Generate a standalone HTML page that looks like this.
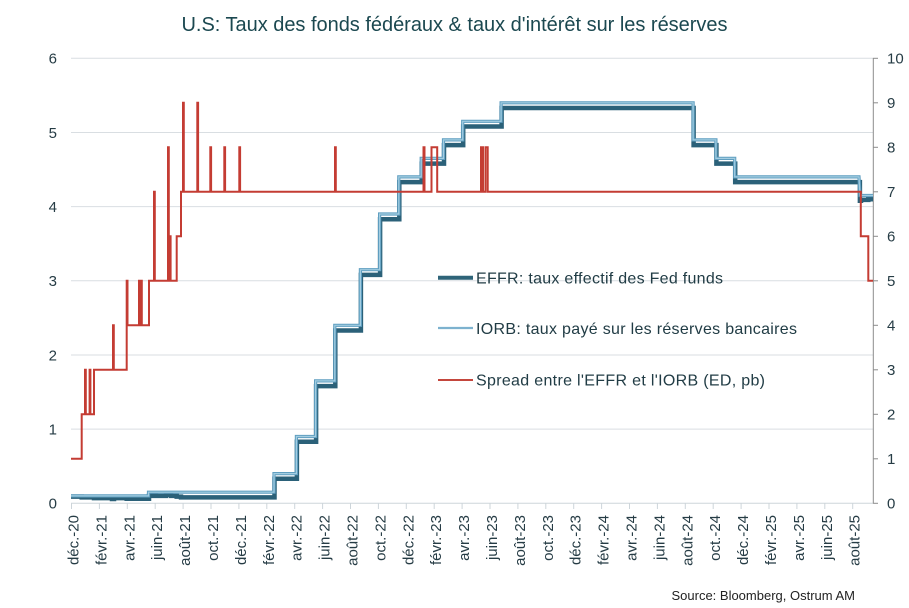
<!DOCTYPE html>
<html>
<head>
<meta charset="utf-8">
<style>
  html, body { margin:0; padding:0; background:#ffffff; }
  svg { display:block; }
  text { font-family: "Liberation Sans", Arial, sans-serif; }
</style>
</head>
<body>
<svg width="909" height="608" viewBox="0 0 909 608" xmlns="http://www.w3.org/2000/svg">
  <rect x="0" y="0" width="909" height="608" fill="#ffffff"/>

  <!-- Title -->
  <text x="181.5" y="31" font-size="20" fill="#1b4850" textLength="546" lengthAdjust="spacing">U.S: Taux des fonds fédéraux &amp; taux d'intérêt sur les réserves</text>

  <!-- Gridlines -->
  <g stroke="#d9dee2" stroke-width="1">
    <line x1="71" y1="58.3" x2="873" y2="58.3"/>
    <line x1="71" y1="132.5" x2="873" y2="132.5"/>
    <line x1="71" y1="206.6" x2="873" y2="206.6"/>
    <line x1="71" y1="280.8" x2="873" y2="280.8"/>
    <line x1="71" y1="355.0" x2="873" y2="355.0"/>
    <line x1="71" y1="429.1" x2="873" y2="429.1"/>
  </g>

  <!-- X axis line and ticks -->
  <line x1="71" y1="503.3" x2="873" y2="503.3" stroke="#cdd5da" stroke-width="1"/>
  <g stroke="#cdd5da" stroke-width="1">
    <line x1="71.5" y1="503" x2="71.5" y2="509"/>
    <line x1="99.4" y1="503" x2="99.4" y2="509"/>
    <line x1="127.3" y1="503" x2="127.3" y2="509"/>
    <line x1="155.2" y1="503" x2="155.2" y2="509"/>
    <line x1="183.1" y1="503" x2="183.1" y2="509"/>
    <line x1="211.0" y1="503" x2="211.0" y2="509"/>
    <line x1="238.9" y1="503" x2="238.9" y2="509"/>
    <line x1="266.8" y1="503" x2="266.8" y2="509"/>
    <line x1="294.7" y1="503" x2="294.7" y2="509"/>
    <line x1="322.6" y1="503" x2="322.6" y2="509"/>
    <line x1="350.5" y1="503" x2="350.5" y2="509"/>
    <line x1="378.4" y1="503" x2="378.4" y2="509"/>
    <line x1="406.3" y1="503" x2="406.3" y2="509"/>
    <line x1="434.2" y1="503" x2="434.2" y2="509"/>
    <line x1="462.1" y1="503" x2="462.1" y2="509"/>
    <line x1="490.0" y1="503" x2="490.0" y2="509"/>
    <line x1="517.9" y1="503" x2="517.9" y2="509"/>
    <line x1="545.8" y1="503" x2="545.8" y2="509"/>
    <line x1="573.7" y1="503" x2="573.7" y2="509"/>
    <line x1="601.6" y1="503" x2="601.6" y2="509"/>
    <line x1="629.5" y1="503" x2="629.5" y2="509"/>
    <line x1="657.4" y1="503" x2="657.4" y2="509"/>
    <line x1="685.3" y1="503" x2="685.3" y2="509"/>
    <line x1="713.2" y1="503" x2="713.2" y2="509"/>
    <line x1="741.1" y1="503" x2="741.1" y2="509"/>
    <line x1="769.0" y1="503" x2="769.0" y2="509"/>
    <line x1="796.9" y1="503" x2="796.9" y2="509"/>
    <line x1="824.8" y1="503" x2="824.8" y2="509"/>
    <line x1="852.7" y1="503" x2="852.7" y2="509"/>
  </g>

  <!-- Right axis -->
  <line x1="873.3" y1="58" x2="873.3" y2="503.5" stroke="#8c8c8c" stroke-width="1"/>
  <g stroke="#8c8c8c" stroke-width="1">
    <line x1="873" y1="58.3" x2="878" y2="58.3"/>
    <line x1="873" y1="102.8" x2="878" y2="102.8"/>
    <line x1="873" y1="147.3" x2="878" y2="147.3"/>
    <line x1="873" y1="191.8" x2="878" y2="191.8"/>
    <line x1="873" y1="236.3" x2="878" y2="236.3"/>
    <line x1="873" y1="280.8" x2="878" y2="280.8"/>
    <line x1="873" y1="325.3" x2="878" y2="325.3"/>
    <line x1="873" y1="369.8" x2="878" y2="369.8"/>
    <line x1="873" y1="414.3" x2="878" y2="414.3"/>
    <line x1="873" y1="458.8" x2="878" y2="458.8"/>
    <line x1="873" y1="503.3" x2="878" y2="503.3"/>
  </g>

  <!-- Left axis labels -->
  <g font-size="15" fill="#263c45" text-anchor="end">
    <text x="57" y="63.6">6</text>
    <text x="57" y="137.8">5</text>
    <text x="57" y="211.9">4</text>
    <text x="57" y="286.1">3</text>
    <text x="57" y="360.3">2</text>
    <text x="57" y="434.4">1</text>
    <text x="57" y="508.6">0</text>
  </g>

  <!-- Right axis labels -->
  <g font-size="15" fill="#263c45" text-anchor="start">
    <text x="887" y="63.6">10</text>
    <text x="887" y="108.1">9</text>
    <text x="887" y="152.6">8</text>
    <text x="887" y="197.1">7</text>
    <text x="887" y="241.6">6</text>
    <text x="887" y="286.1">5</text>
    <text x="887" y="330.6">4</text>
    <text x="887" y="375.1">3</text>
    <text x="887" y="419.6">2</text>
    <text x="887" y="464.1">1</text>
    <text x="887" y="508.6">0</text>
  </g>

  <!-- X labels (rotated) -->
  <g font-size="15" fill="#263c45" text-anchor="end">
    <text transform="translate(78.5,515) rotate(-90)">déc.-20</text>
    <text transform="translate(106.4,515) rotate(-90)">févr.-21</text>
    <text transform="translate(134.3,515) rotate(-90)">avr.-21</text>
    <text transform="translate(162.2,515) rotate(-90)">juin-21</text>
    <text transform="translate(190.1,515) rotate(-90)">août-21</text>
    <text transform="translate(218.0,515) rotate(-90)">oct.-21</text>
    <text transform="translate(245.9,515) rotate(-90)">déc.-21</text>
    <text transform="translate(273.8,515) rotate(-90)">févr.-22</text>
    <text transform="translate(301.7,515) rotate(-90)">avr.-22</text>
    <text transform="translate(329.6,515) rotate(-90)">juin-22</text>
    <text transform="translate(357.5,515) rotate(-90)">août-22</text>
    <text transform="translate(385.4,515) rotate(-90)">oct.-22</text>
    <text transform="translate(413.3,515) rotate(-90)">déc.-22</text>
    <text transform="translate(441.2,515) rotate(-90)">févr.-23</text>
    <text transform="translate(469.1,515) rotate(-90)">avr.-23</text>
    <text transform="translate(497.0,515) rotate(-90)">juin-23</text>
    <text transform="translate(524.9,515) rotate(-90)">août-23</text>
    <text transform="translate(552.8,515) rotate(-90)">oct.-23</text>
    <text transform="translate(580.7,515) rotate(-90)">déc.-23</text>
    <text transform="translate(608.6,515) rotate(-90)">févr.-24</text>
    <text transform="translate(636.5,515) rotate(-90)">avr.-24</text>
    <text transform="translate(664.4,515) rotate(-90)">juin-24</text>
    <text transform="translate(692.3,515) rotate(-90)">août-24</text>
    <text transform="translate(720.2,515) rotate(-90)">oct.-24</text>
    <text transform="translate(748.1,515) rotate(-90)">déc.-24</text>
    <text transform="translate(776.0,515) rotate(-90)">févr.-25</text>
    <text transform="translate(803.9,515) rotate(-90)">avr.-25</text>
    <text transform="translate(831.8,515) rotate(-90)">juin-25</text>
    <text transform="translate(859.7,515) rotate(-90)">août-25</text>
  </g>

  <!-- EFFR (dark thick) -->
  <path fill="none" stroke="#2b6179" stroke-width="4.5" stroke-linejoin="miter"
    d="M71,496.6 H81.7 V497.4 H94 V498.1 H112 V499 H114 V498.1 H126.7 V498.8 H149 V495.9 H152 V494.8 H156 V495.9 H166 V494.8 H171 V495.9 H176.7 V496.6 H181 V497.4 H274.5 V478.8 H296.9 V441.7 H316.1 V386.1 H335.3 V330.5 H360.9 V274.9 H380.1 V219.2 H399.3 V182.1 H421.7 V163.6 H444 V145.1 H463.2 V126.5 H501.6 V108 H693.6 V145.1 H716.4 V163.6 H735.2 V182.1 H859.9 V200.7 H861 V199.9 H868.3 V199.2 H873"/>

  <!-- IORB (light blue) -->
  <path fill="none" stroke="#5f9ec0" stroke-width="3.2" stroke-linejoin="miter"
    d="M71,495.9 H148.5 V492.2 H274 V473.6 H296.4 V436.5 H315.6 V380.9 H334.8 V325.3 H360.4 V269.7 H379.6 V214 H398.8 V176.9 H421.2 V158.4 H443.5 V139.9 H462.7 V121.3 H501.1 V102.8 H693.1 V139.9 H715.9 V158.4 H734.7 V176.9 H859 L860,195.5 H873"/>
  <path fill="none" stroke="#a3cde1" stroke-width="1.2" stroke-linejoin="miter"
    d="M71,495.9 H148.5 V492.2 H274 V473.6 H296.4 V436.5 H315.6 V380.9 H334.8 V325.3 H360.4 V269.7 H379.6 V214 H398.8 V176.9 H421.2 V158.4 H443.5 V139.9 H462.7 V121.3 H501.1 V102.8 H693.1 V139.9 H715.9 V158.4 H734.7 V176.9 H859 L860,195.5 H873"/>

  <!-- Spread (red, right axis) -->
  <path fill="none" stroke="#c43c33" stroke-width="2" stroke-linejoin="miter"
    d="M71,458.8 H81.7 V414.3 H85 V369.8 H85.8 V414.3 H89.6 V369.8 H90.4 V414.3 H94 V369.8 H113 V325.3 H113.8 V369.8 H126.7 V280.8 H127.5 V325.3 H139 V280.8 H139.8 V325.3 H141 V280.8 H141.8 V325.3 H149 V280.8 H154 V191.8 H154.8 V280.8 H168 V147.3 H168.8 V280.8 H169.8 V236.3 H170.6 V280.8 H176.7 V236.3 H181 V191.8 H183 V102.8 H183.8 V191.8 H197.3 V102.8 H198.1 V191.8 H210.3 V147.3 H211.1 V191.8 H224.3 V147.3 H225.1 V191.8 H239.3 V147.3 H240.1 V191.8 H335 V147.3 H335.8 V191.8 H423.5 V147.3 H424.5 V191.8 H431.5 V147.3 H437.2 V191.8 H481 V147.3 H483 V191.8 H485.5 V147.3 H487.7 V191.8 H860.8 V236.3 H868.3 V280.8 H873"/>

  <!-- Legend -->
  <line x1="438" y1="277.7" x2="473" y2="277.7" stroke="#2e6479" stroke-width="4"/>
  <line x1="438" y1="328" x2="473" y2="328" stroke="#7db2cf" stroke-width="2.2"/>
  <line x1="438" y1="380" x2="473" y2="380" stroke="#c4463d" stroke-width="2"/>
  <g font-size="16" fill="#213c45">
    <text x="476" y="283.4" textLength="247" lengthAdjust="spacing">EFFR: taux effectif des Fed funds</text>
    <text x="476" y="334" textLength="321" lengthAdjust="spacing">IORB: taux payé sur les réserves bancaires</text>
    <text x="476" y="385.5" textLength="289" lengthAdjust="spacing">Spread entre l'EFFR et l'IORB (ED, pb)</text>
  </g>

  <!-- Source -->
  <text x="855" y="600" font-size="13" fill="#222222" text-anchor="end">Source: Bloomberg,  Ostrum AM</text>
</svg>
</body>
</html>
